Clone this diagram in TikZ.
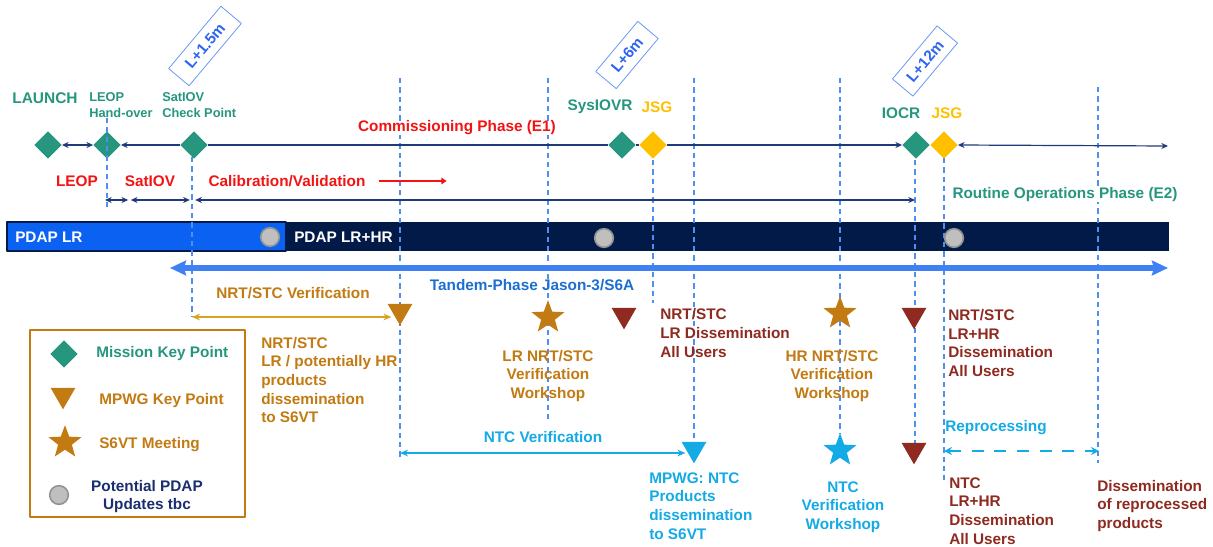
\documentclass[tikz,border=0pt]{standalone}
\usepackage{fontspec}
\setmainfont{Liberation Sans}
\usetikzlibrary{shapes.geometric,arrows.meta}
\definecolor{mteal}{HTML}{26967F}
\definecolor{jsgyellow}{HTML}{FFC000}
\definecolor{mochre}{HTML}{C27A12}
\definecolor{mgold}{HTML}{D9A521}
\definecolor{mred}{HTML}{8E2A20}
\definecolor{phasered}{HTML}{F21414}
\definecolor{ntccyan}{HTML}{14AAE6}
\definecolor{guideblue}{HTML}{4F8FF2}
\definecolor{tandemblue}{HTML}{3F80F4}
\definecolor{tandemtext}{HTML}{1D6FCF}
\definecolor{pdapblue}{HTML}{0B62F2}
\definecolor{pdapnavy}{HTML}{021A47}
\definecolor{linenavy}{HTML}{1E3A78}
\definecolor{legendnavy}{HTML}{1B2E6E}
\definecolor{boxblue}{HTML}{2E66F0}
\definecolor{boxline}{HTML}{6A98F5}
\begin{document}
\begin{tikzpicture}[x=0.75pt,y=-0.75pt,line join=round,>={Stealth[length=5pt,width=4.5pt]}]
	\tikzset{every node/.style={font=\bfseries\fontsize{11.5}{14}\selectfont,inner sep=0pt},
		small/.style={font=\bfseries\fontsize{9.6}{12}\selectfont},
		lft/.style={anchor=west,align=left},
		ctr/.style={align=center},
		mkp/.style={diamond,fill=mteal,minimum size=20.5pt},
		jsg/.style={mkp,fill=jsgyellow},
		tri/.style={regular polygon,regular polygon sides=3,shape border rotate=180,minimum size=21.5pt},
		meet/.style={star,star points=5,star point ratio=2.4,minimum size=26pt},
		upd/.style={circle,fill=gray!50,draw=gray!85,line width=1.2pt,minimum size=14pt},
		guide/.style={guideblue,line width=0.8pt,dash pattern=on 4pt off 3pt},
		nav/.style={linenavy,line width=0.9pt},
		lbox/.style={draw=boxline,text=boxblue,rotate=50,minimum height=20pt,line width=0.6pt}}
	\useasboundingbox (0,0) rectangle (1213,546);
	\fill[pdapblue,draw=pdapnavy,line width=0.8pt] (7,222) rectangle (286,251);
	\fill[pdapnavy] (286,222) rectangle (1169,251);
	\foreach \x/\a/\b in {192/157/317,400/78/457,548/78/423,653/160/303,694/78/440,840/78/433,915/160/443,944/158/480,1098/87/463}
		\draw[guide] (\x,\a)--(\x,\b);
	\node[mkp] (launch) at (48,145) {};
	\node[mkp] (leop) at (107,145) {};
	\node[mkp] (satiov) at (194,145) {};
	\node[mkp] (sysiovr) at (622,145) {};
	\node[jsg] (jsg1) at (653,145) {};
	\node[mkp] (iocr) at (916,145) {};
	\node[jsg] (jsg2) at (944,145) {};
	\draw[guide] (107,118)--(107,207);
	\node[text=mteal,font=\bfseries\fontsize{11.6}{14}\selectfont] (launchlbl) at (45,98) {LAUNCH};
	\node[lft,small,text=mteal] (leoplbl) at (89,105) {LEOP\\Hand-over};
	\node[lft,small,text=mteal] (satlbl) at (162,105) {SatIOV\\Check Point};
	\node[lbox,minimum width=61pt] (box15) at (205,46) {L+1.5m};
	\node[lbox,minimum width=49pt] (box6) at (627,55) {L+6m};
	\node[lbox,minimum width=52pt] (box12) at (925,61) {L+12m};
	\node[text=phasered,fill=white] (e1lbl) at (457,128) {Commissioning Phase (E1)};
	\node[text=mteal] (syslbl) at (600,107) {SysIOVR};
	\node[text=jsgyellow] (jsglbl1) at (657,107) {JSG};
	\node[text=mteal] (iocrlbl) at (901,113) {IOCR};
	\node[text=jsgyellow] (jsglbl2) at (947,113) {JSG};
	\draw[nav,<->] (launch.east)--(leop.west);
	\draw[nav,<-] (leop.east)--(satiov.west);
	\draw[nav] (satiov.east)--(sysiovr.west) (sysiovr.east)--(jsg1.west);
	\draw[nav,->] (jsg1.east)--(iocr.west);
	\coordinate (e2end) at (1168,146);
	\draw[nav,<->] (jsg2.east)--(e2end);
	\node[text=phasered] (leopph) at (77,181) {LEOP};
	\node[text=phasered] (satph) at (150,181) {SatIOV};
	\node[text=phasered] (calval) at (287,181) {Calibration/Validation};
	\draw[phasered,line width=2.2pt,-{Triangle[length=4pt,width=5pt]}] ([xshift=9.75pt]calval.east)--++(68,0);
	\coordinate (r1) at (105,200);
	\coordinate (r2) at (129.5,200);
	\coordinate (r3) at (192.5,200);
	\coordinate (r4) at (915,200);
	\draw[nav,<->,shorten >=1pt] (r1)--(r2);
	\draw[nav,<->,shorten <=1pt,shorten >=2pt] (r2)--(r3);
	\draw[nav,<->,shorten <=2pt] (r3)--(r4);
	\node[text=mteal,fill=white] (e2lbl) at (1065,195) {Routine Operations Phase (E2)};
	\node[text=white,anchor=west] (lrlbl) at (15,237) {PDAP LR};
	\node[text=white,anchor=west] (hrlbl) at (294,237) {PDAP LR+HR};
	\node[upd] (upd1) at (270,237) {};
	\node[upd] (upd2) at (604,238) {};
	\node[upd] (upd3) at (954,238) {};
	\coordinate (t1) at (170,268);
	\coordinate (t2) at (1168,268);
	\draw[tandemblue,line width=3.8pt,{Stealth[length=12pt,width=11pt,inset=1.5pt]}-{Stealth[length=12pt,width=11pt,inset=1.5pt]}] (t1)--(t2);
	\node[text=tandemtext] (tandlbl) at (532,285) {Tandem-Phase Jason-3/S6A};
	\node[tri,fill=mochre] (mpwg1) at (400,311) {};
	\node[meet,fill=mochre] (lrmeet) at (548,317.5) {};
	\node[tri,fill=mred] (lrall) at (624,315) {};
	\node[meet,fill=mochre] (hrmeet) at (840,313.5) {};
	\node[tri,fill=mred] (hrall) at (914,315) {};
	\node[tri,fill=ntccyan] (ntcmpwg) at (694,449) {};
	\node[meet,fill=ntccyan] (ntcmeet) at (840,450.5) {};
	\node[tri,fill=mred] (ntcall) at (914,450) {};
	\node[text=mochre] (nrtlbl) at (293,293) {NRT/STC Verification};
	\coordinate (n1) at (192,317);
	\draw[mgold,line width=1.5pt,{Stealth[length=6pt,width=5pt]}-{Stealth[length=6pt,width=5pt]}] (n1)--(n1 -| mpwg1.west);
	\node[lft,text=mochre] (nrtdis) at (261,380) {NRT/STC\\LR / potentially HR\\products\\dissemination\\to S6VT};
	\node[ctr,text=mochre] (lrws) at (548,376) {LR NRT/STC\\Verification\\Workshop};
	\node[lft,text=mred] (lrdis) at (660,333) {NRT/STC\\LR Dissemination\\All Users};
	\node[ctr,text=mochre] (hrws) at (832,376) {HR NRT/STC\\Verification\\Workshop};
	\node[lft,text=mred] (hrdis) at (948,343) {NRT/STC\\LR+HR\\Dissemination\\All Users};
	\node[text=ntccyan] (ntclbl) at (543,437) {NTC Verification};
	\coordinate (c1) at (400,453);
	\draw[ntccyan,line width=1.5pt,{Stealth[length=6pt,width=5pt]}-{Stealth[length=6pt,width=5pt]}] (c1)--(c1 -| ntcmpwg.west);
	\node[lft,text=ntccyan] (ntcdis) at (649,506) {MPWG: NTC\\Products\\dissemination\\to S6VT};
	\node[ctr,text=ntccyan] (ntcws) at (843,507) {NTC\\Verification\\Workshop};
	\node[text=ntccyan] (replbl) at (996,428) {Reprocessing};
	\coordinate (p1) at (944,451);
	\coordinate (p2) at (1099,451);
	\draw[ntccyan,line width=2.2pt,dash pattern=on 9pt off 8pt,{Stealth[length=6pt,width=6pt]}-{Stealth[length=6pt,width=6pt]}] (p1)--(p2);
	\node[lft,text=mred] (ntcdislbl) at (949,511) {NTC\\LR+HR\\Dissemination\\All Users};
	\node[lft,text=mred] (repdis) at (1097,506) {Dissemination\\of reprocessed\\products};
	\draw[mochre,line width=1.5pt] (30,330) rectangle (245,517);
	\node[mkp] (legmkp) at (64,354) {};
	\node[lft,text=mteal] (legmkplbl) at (96,354) {Mission Key Point};
	\node[tri,fill=mochre] (legtri) at (63,395) {};
	\node[lft,text=mochre] (legtrilbl) at (99,401) {MPWG Key Point};
	\node[meet,fill=mochre] (legmeet) at (65,442.5) {};
	\node[lft,text=mochre] (legmeetlbl) at (99,445) {S6VT Meeting};
	\node[upd] (legupd) at (59,495) {};
	\node[ctr,text=legendnavy] (legupdlbl) at (147,496.5) {Potential PDAP\\Updates tbc};
\end{tikzpicture}
\end{document}
